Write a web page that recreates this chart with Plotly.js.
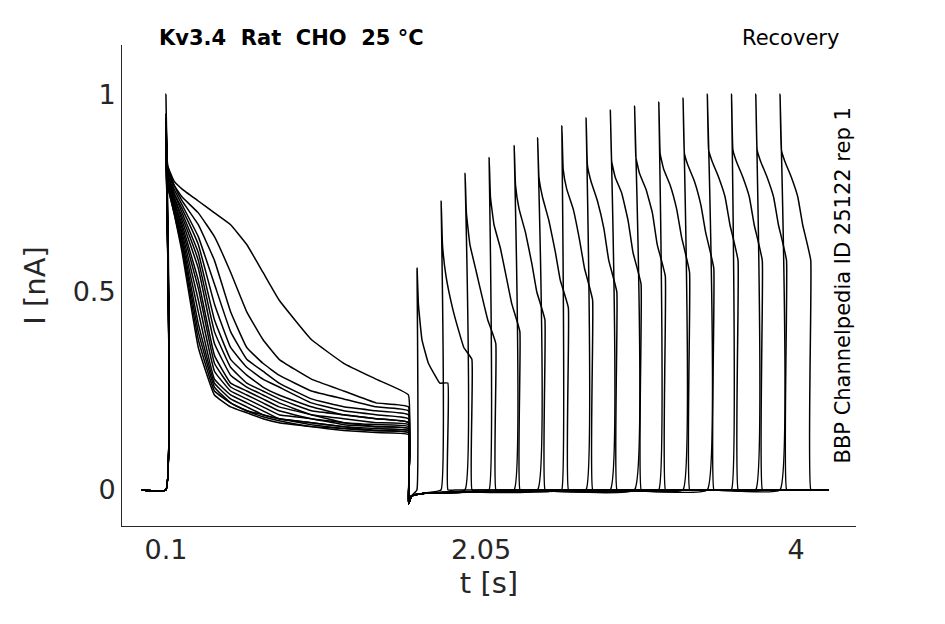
<!DOCTYPE html>
<html>
<head>
<meta charset="utf-8">
<script src="https://cdn.plot.ly/plotly-3.0.1.min.js"></script>
<style>body{margin:0;background:#fff}</style>
</head>
<body>
<div id="chart" style="width:945px;height:624px"></div>
<script>
// first pulse sample times (s)
const t1 = [0.1, 0.11, 0.15, 0.2, 0.3, 0.4, 0.5, 0.6, 0.7, 0.8, 1.0, 1.2, 1.4, 1.6]
// first pulse current per sweep (nA)
const pulse1 = [
    [1.00, 0.82, 0.78, 0.76, 0.73, 0.70, 0.67, 0.62, 0.55, 0.48, 0.38, 0.32, 0.28, 0.24],
    [0.95, 0.82, 0.77, 0.74, 0.70, 0.64, 0.55, 0.45, 0.38, 0.33, 0.28, 0.25, 0.22, 0.21],
    [0.94, 0.81, 0.77, 0.73, 0.67, 0.58, 0.45, 0.36, 0.32, 0.29, 0.25, 0.23, 0.21, 0.20],
    [0.93, 0.81, 0.76, 0.72, 0.64, 0.52, 0.40, 0.33, 0.30, 0.27, 0.23, 0.21, 0.20, 0.19],
    [0.93, 0.80, 0.75, 0.71, 0.62, 0.47, 0.36, 0.31, 0.28, 0.26, 0.22, 0.20, 0.19, 0.18],
    [0.92, 0.80, 0.75, 0.70, 0.60, 0.43, 0.33, 0.29, 0.26, 0.24, 0.21, 0.19, 0.18, 0.17],
    [0.92, 0.80, 0.74, 0.69, 0.58, 0.40, 0.31, 0.27, 0.25, 0.23, 0.20, 0.19, 0.18, 0.17],
    [0.91, 0.79, 0.74, 0.68, 0.56, 0.37, 0.29, 0.26, 0.24, 0.22, 0.19, 0.18, 0.17, 0.165],
    [0.91, 0.79, 0.73, 0.67, 0.53, 0.34, 0.27, 0.25, 0.23, 0.21, 0.19, 0.17, 0.165, 0.16],
    [0.90, 0.79, 0.73, 0.66, 0.51, 0.32, 0.26, 0.24, 0.22, 0.20, 0.18, 0.17, 0.16, 0.155],
    [0.90, 0.78, 0.72, 0.65, 0.48, 0.30, 0.25, 0.23, 0.21, 0.19, 0.18, 0.165, 0.16, 0.155],
    [0.90, 0.78, 0.72, 0.64, 0.45, 0.28, 0.24, 0.22, 0.20, 0.18, 0.17, 0.16, 0.155, 0.15],
    [0.89, 0.78, 0.71, 0.63, 0.42, 0.27, 0.23, 0.21, 0.19, 0.18, 0.17, 0.16, 0.15, 0.15],
    [0.89, 0.77, 0.71, 0.62, 0.40, 0.26, 0.22, 0.20, 0.19, 0.18, 0.165, 0.155, 0.15, 0.145],
    [0.88, 0.77, 0.70, 0.61, 0.38, 0.25, 0.22, 0.20, 0.185, 0.175, 0.16, 0.155, 0.15, 0.145],
    [0.88, 0.77, 0.70, 0.60, 0.36, 0.24, 0.21, 0.195, 0.18, 0.17, 0.16, 0.15, 0.145, 0.14]
]
// second pulse onsets (s)
const onsets = [1.654, 1.803, 1.951, 2.10, 2.255, 2.40, 2.55, 2.70, 2.85, 3.00, 3.15, 3.30, 3.45, 3.60, 3.75, 3.90]
// offsets after onset (s) and currents (nA)
const dt2 = [0, 0.008, 0.03, 0.07, 0.11, 0.14, 0.19]
const pulse2 = [
    [0.56, 0.47, 0.38, 0.32, 0.29, 0.27, 0.27],
    [0.73, 0.62, 0.54, 0.46, 0.40, 0.36, 0.33],
    [0.80, 0.70, 0.62, 0.55, 0.48, 0.43, 0.37],
    [0.84, 0.74, 0.67, 0.61, 0.53, 0.47, 0.40],
    [0.87, 0.77, 0.71, 0.65, 0.57, 0.50, 0.43],
    [0.89, 0.79, 0.74, 0.68, 0.60, 0.53, 0.46],
    [0.92, 0.81, 0.76, 0.71, 0.63, 0.56, 0.48],
    [0.94, 0.82, 0.78, 0.73, 0.66, 0.58, 0.50],
    [0.96, 0.83, 0.79, 0.75, 0.68, 0.60, 0.52],
    [0.97, 0.84, 0.80, 0.76, 0.70, 0.62, 0.54],
    [0.98, 0.85, 0.81, 0.77, 0.71, 0.64, 0.55],
    [0.99, 0.85, 0.82, 0.78, 0.72, 0.65, 0.56],
    [1.00, 0.86, 0.83, 0.79, 0.74, 0.67, 0.58],
    [1.00, 0.86, 0.83, 0.79, 0.74, 0.67, 0.58],
    [1.00, 0.86, 0.83, 0.79, 0.74, 0.67, 0.58],
    [1.00, 0.86, 0.83, 0.79, 0.74, 0.67, 0.58]
]
// baseline between pulses
const gapT = [1.601, 1.62, 1.7, 2.0, 2.5, 3.0, 3.5]
const gapI = [-0.035, -0.015, -0.008, -0.005, -0.003, -0.002, 0]

const traces = pulse1.map((p1, k) => {
    const x = [-0.05, 0.0995], y = [0, 0]
    t1.forEach((t, i) => { x.push(t); y.push(p1[i]) })
    const t0 = onsets[k]
    gapT.forEach((t, i) => { if (t < t0) { x.push(t); y.push(gapI[i]) } })
    x.push(t0 - 0.001); y.push(0)
    dt2.forEach((d, i) => { x.push(t0 + d); y.push(pulse2[k][i]) })
    x.push(t0 + 0.191, t0 + 0.25, 4.2)
    y.push(0, 0, 0)
    return { x: x, y: y, type: 'scatter', mode: 'lines', line: { color: '#000', width: 1.5, shape: 'spline', smoothing: 0.3 }, hoverinfo: 'skip' }
})

const txt = '#262626'
const layout = {
    width: 945, height: 624,
    margin: { l: 122, r: 89, t: 45, b: 98 },
    showlegend: false,
    plot_bgcolor: '#fff', paper_bgcolor: '#fff',
    font: { family: 'DejaVu Sans', color: txt },
    xaxis: {
        range: [-0.172, 4.37], tickvals: [0.1, 2.05, 4], ticktext: ['0.1', '2.05', '4'],
        showgrid: false, zeroline: false, showline: true, linecolor: txt, linewidth: 1,
        ticks: 'outside', ticklen: 0, tickfont: { size: 27 },
        title: { text: 't [s]', font: { size: 29 }, standoff: 8 }
    },
    yaxis: {
        range: [-0.091, 1.124], tickvals: [0, 0.5, 1], ticktext: ['0', '0.5', '1'],
        showgrid: false, zeroline: false, showline: true, linecolor: txt, linewidth: 1,
        ticks: 'outside', ticklen: 0, tickfont: { size: 27 },
        title: { text: 'I [nA]', font: { size: 29 }, standoff: 18 }
    },
    annotations: [
        { text: '<b>Kv3.4  Rat  CHO  25 °C</b>', xref: 'paper', yref: 'paper', x: 0.048, y: 0.985, xanchor: 'left', yanchor: 'bottom', showarrow: false, font: { size: 21, color: '#000' } },
        { text: 'Recovery', xref: 'paper', yref: 'paper', x: 0.979, y: 0.985, xanchor: 'right', yanchor: 'bottom', showarrow: false, font: { size: 21, color: '#000' } },
        { text: 'BBP Channelpedia ID 25122 rep 1', xref: 'paper', yref: 'paper', x: 1.0, y: 0.5, textangle: -90, showarrow: false, font: { size: 21, color: '#000' } }
    ]
}

Plotly.newPlot('chart', traces, layout, { displayModeBar: false })
</script>
</body>
</html>
